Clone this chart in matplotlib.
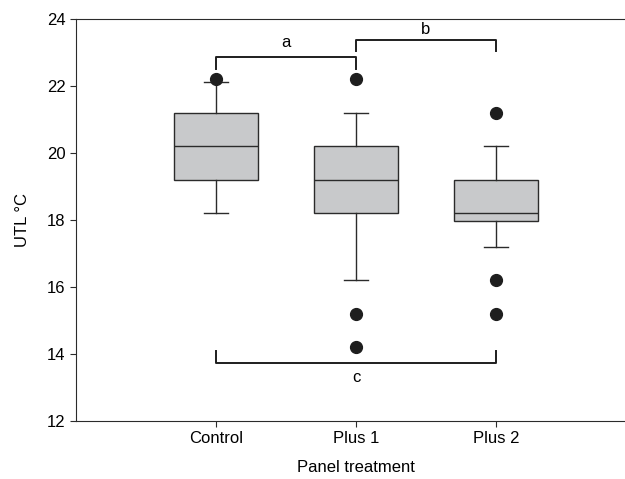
import matplotlib.pyplot as plt

#Box plot values (UTL in degrees C)
groups = ['Control', 'Plus 1', 'Plus 2']
medians = [20.2, 19.2, 18.2]
q1 = [19.2, 18.2, 17.95]
q3 = [21.2, 20.2, 19.2]
whisk_lo = [18.2, 16.2, 17.2]
whisk_hi = [22.1, 21.2, 20.2]
outliers = [[22.2], [22.2, 15.2, 14.2], [21.2, 16.2, 15.2]]

#Significance brackets: (start group, end group, bar level, tip level, letter, letter y)
brackets = [(1, 2, 22.87, 22.5, 'a', 23.3),
            (2, 3, 23.36, 23.02, 'b', 23.68),
            (1, 3, 13.72, 14.08, 'c', 13.3)]

plt.rcParams['font.family'] = ['Liberation Sans', 'DejaVu Sans']
line_col = '#2b2b2b'

fig = plt.figure(figsize=(6.25, 4.79), dpi=100)
ax = fig.add_axes([0.1216, 0.1211, 0.896, 0.84])

stats = []
for i in range(len(groups)):
    stats.append({'med': medians[i], 'q1': q1[i], 'q3': q3[i],
                  'whislo': whisk_lo[i], 'whishi': whisk_hi[i],
                  'fliers': outliers[i], 'label': groups[i]})

ax.bxp(stats, positions=[1, 2, 3], widths=0.6, patch_artist=True,
       boxprops=dict(facecolor='#c8c9cb', edgecolor=line_col, linewidth=1.0),
       medianprops=dict(color=line_col, linewidth=1.0),
       whiskerprops=dict(color=line_col, linewidth=1.0),
       capprops=dict(color=line_col, linewidth=1.0),
       capwidths=0.17,
       flierprops=dict(marker='o', markerfacecolor='#1e1e1e', markeredgecolor='#1e1e1e', markersize=8.5))

#Brackets
for x0, x1, level, tip, letter, ly in brackets:
    ax.plot([x0, x0, x1, x1], [tip, level, level, tip], color='#1e1e1e', linewidth=1.4)
    ax.text((x0 + x1) / 2, ly, letter, ha='center', va='center', fontsize=12)

ax.set_xlim(0, 4)
ax.set_ylim(12, 24)
ax.set_yticks([12, 14, 16, 18, 20, 22, 24])
ax.set_xticks([1, 2, 3])
ax.set_xticklabels(groups)
ax.tick_params(labelsize=12, color=line_col, direction='out', length=4)
for s in ax.spines.values():
    s.set_color(line_col)
ax.spines['right'].set_visible(False)
ax.set_xlabel('Panel treatment', fontsize=12, labelpad=10)
ax.set_ylabel('UTL °C', fontsize=12, labelpad=12)

fig.savefig('out.png', dpi=100)
